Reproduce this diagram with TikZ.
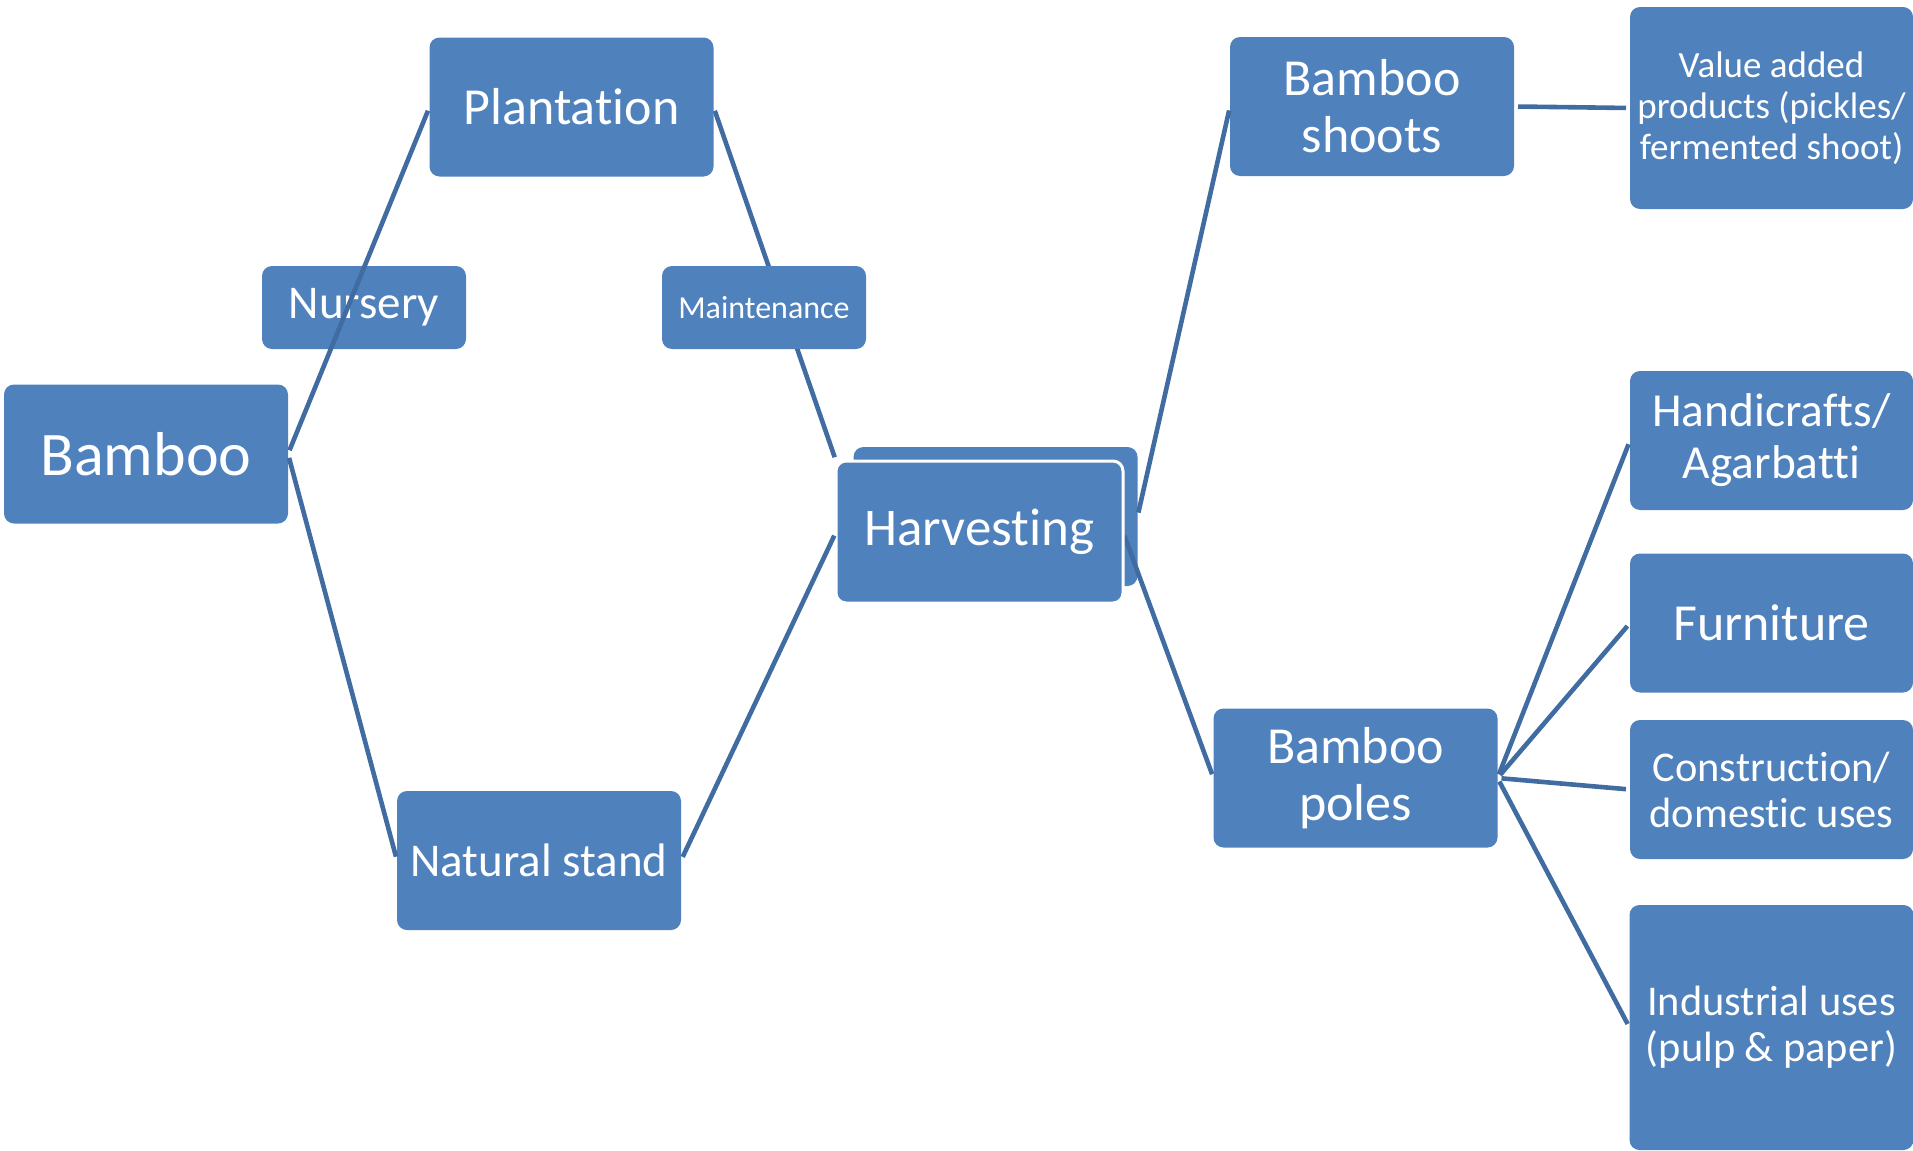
\documentclass[tikz,border=0pt]{standalone}
\usepackage{fontspec}
\setmainfont{Carlito}[Ligatures=NoCommon]
\usetikzlibrary{positioning}
\definecolor{boxblue}{RGB}{79,129,189}
\definecolor{lineblue}{RGB}{64,108,162}
\pgfdeclarelayer{back}
\pgfsetlayers{back,main}
\tikzset{
  basic/.style = {rectangle, rounded corners=5pt, fill=boxblue, text=white,
                  align=center, inner sep=0pt, outer sep=0pt},
  big/.style   = {basic, minimum width=142pt, minimum height=69.5pt},
  small/.style = {basic, minimum width=102pt, minimum height=41.5pt},
  tall/.style  = {big, minimum height=#1},
  link/.style  = {draw=lineblue, line width=2.3pt, shorten <=2pt, shorten >=2pt}
}

\begin{document}
\begin{tikzpicture}[x=0.5pt, y=-0.5pt]
\useasboundingbox (0,0) rectangle (1913,1151);

% left part
\node[big, font=\fontsize{31}{34}\selectfont] (root) at (146,454) {Bamboo};
\node[big, font=\fontsize{26}{29}\selectfont] (c1) at (571.5,107) {Plantation};
\node[big, font=\fontsize{23.5}{26}\selectfont] (c2) at (539,860.5) {Natural stand};
\node[small, font=\fontsize{23.5}{26}\selectfont] (n1) at (364,307.5) {Nursery};
\node[small, font=\fontsize{16}{18}\selectfont] (m1) at (764,307.5) {Maintenance};

% harvesting (two stacked boxes)
\node[big, draw=white, line width=1.5pt, minimum width=143.5pt, minimum height=71pt,
      font=\fontsize{26.5}{29}\selectfont] (h) at (979.5,532) {Harvesting};

% right part
\node[big, font=\fontsize{26}{28.5}\selectfont] (s) at (1372,106.5) {Bamboo\\shoots};
\node[tall=101pt, minimum width=141.5pt, font=\fontsize{18.5}{20.5}\selectfont] (s1) at (1771.5,108)
  {Value added\\products (pickles/\\fermented shoot)};
\node[big, font=\fontsize{26}{28.5}\selectfont] (p) at (1355.5,778) {Bamboo\\poles};

\begin{scope}[every node/.style={big, minimum width=141.5pt}]
\node[font=\fontsize{23.7}{26}\selectfont] (p1) at (1771.5,440.5) {Handicrafts/\\Agarbatti};
\node[font=\fontsize{26}{28.5}\selectfont] (p2) at (1771.5,623) {Furniture};
\node[font=\fontsize{21.2}{23}\selectfont] (p3) at (1771.5,789.5) {Construction/\\domestic uses};
\node[tall=122.5pt, font=\fontsize{21.2}{23}\selectfont] (p4) at (1771.5,1027.5) {Industrial uses\\(pulp \& paper)};
\end{scope}

% lines behind the boxes
\begin{pgfonlayer}{back}
\node[big] (hb) at (995.5,516.5) {};
\draw[link] (c1.east) -- (h.north west);
\draw[link] (h.east) -- (p.west);
\end{pgfonlayer}

\draw[link] (root.east) -- (c1.west);
\draw[link] (root.east) -- (c2.west);
\draw[link] (c2.east) -- (h.west);
\draw[link] (hb.east) -- (s.west);
\draw[link] (s.east) -- (s1.west);
\foreach \value in {1,...,4}
  \draw[link] (p.east) -- (p\value.west);
\end{tikzpicture}
\end{document}
